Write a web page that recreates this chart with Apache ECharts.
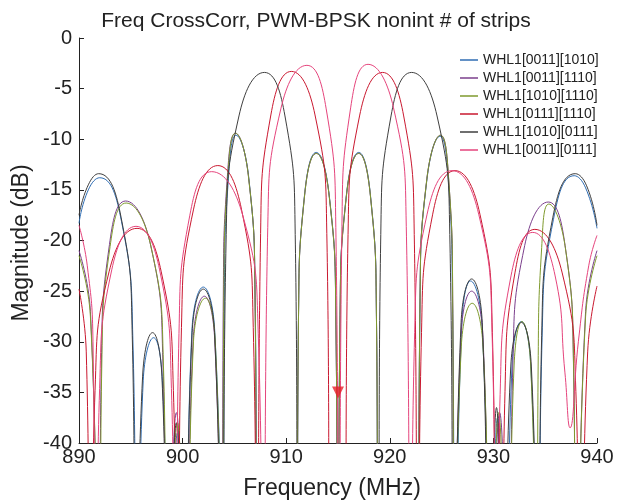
<!DOCTYPE html>
<html><head><meta charset="utf-8">
<script src="https://cdn.jsdelivr.net/npm/echarts@6/dist/echarts.min.js"></script>
<style>html,body{margin:0;padding:0;background:#fff}#c{width:622px;height:502px}</style>
</head><body><div id="c"></div>
<script>
const titleText = 'Freq CrossCorr, PWM-BPSK nonint # of strips';
const xName = 'Frequency (MHz)';
const yName = 'Magnitude (dB)';
const names = ['WHL1[0011][1010]','WHL1[0011][1110]','WHL1[1010][1110]','WHL1[0111][1110]','WHL1[1010][0111]','WHL1[0011][0111]'];
const colors = ['#2f6db3','#7b3f8c','#7f9a2e','#c9182f','#3f3f3f','#e5447c'];

const s1 = [[890,-18.3],[890.9,-15.0],[892.0,-13.8],[894.1,-18.1],[895.2,-29.8],[895.6,-60],
[896.2,-33.8],[897.2,-29.6],[898.05,-33.8],[898.7,-60],
[899.5,-39],[900.2,-60],
[900.9,-28.9],[902.0,-24.6],[903.1,-28.9],[903.9,-60],
[904.03,-25.6],[904.42,-13.9],[905.15,-9.6],[906.4,-13.9],[907.0,-25.6],[907.25,-60],
[911.0,-60],
[911.19,-27.3],[911.76,-15.6],[912.9,-11.3],[914.16,-15.6],[914.79,-27.3],[915.0,-60],
[915.2,-27.3],[915.8,-15.6],[917.0,-11.3],[918.14,-15.6],[918.71,-27.3],[918.9,-60],
[922.7,-60],
[922.92,-25.7],[923.58,-14.0],[924.85,-9.7],[925.65,-14.0],[926.05,-25.7],[926.3,-60],
[926.95,-28.3],[927.8,-24.0],[928.9,-28.3],[929.7,-60],
[930.4,-37.5],[931.2,-60],
[931.8,-32.3],[932.7,-28.0],[933.6,-32.3],[934.3,-60],
[934.7,-29.6],[935.8,-17.9],[937.8,-13.6],[938.9,-14.8],[940,-18.8]];

const s2 = [[890,-21],[891.1,-27],[891.9,-60],
[892.16,-32.1],[892.94,-20.4],[894.5,-16.1],[896.9,-20.4],[898.1,-32.1],[898.5,-60],
[899.4,-37],[900.3,-60],
[901.02,-29.8],[902.1,-25.5],[903.1,-29.8],[903.8,-60],
[903.93,-25.4],[904.32,-13.7],[905.1,-9.4],[906.36,-13.7],[906.99,-25.4],[907.2,-60],
[911.0,-60],
[911.19,-27.4],[911.76,-15.7],[912.9,-11.4],[914.16,-15.7],[914.79,-27.4],[915.0,-60],
[915.2,-27.4],[915.8,-15.7],[917.0,-11.4],[918.14,-15.7],[918.71,-27.4],[918.9,-60],
[922.7,-60],
[922.92,-25.6],[923.58,-13.9],[924.9,-9.6],[925.68,-13.9],[926.07,-25.6],[926.2,-60],
[926.88,-29.3],[927.9,-25],[928.98,-29.3],[929.7,-60],
[930.6,-37],[931.5,-60],
[931.88,-32.2],[933.02,-20.5],[935.3,-16.2],[936.92,-20.5],[937.73,-32.2],[938.0,-60],
[938.9,-27],[940,-21]];

const s3 = [[890,-21.5],[891.1,-27.5],[891.95,-60],
[892.2,-32.3],[893.0,-20.6],[894.55,-16.3],[896.95,-20.6],[898.15,-32.3],[898.55,-60],
[899.5,-38],[900.35,-60],
[901.05,-30.0],[902.2,-25.7],[903.15,-30.0],[903.85,-60],
[903.98,-25.4],[904.36,-13.7],[905.1,-9.4],[906.36,-13.7],[906.99,-25.4],[907.2,-60],
[911.0,-60],
[911.19,-27.4],[911.76,-15.7],[912.9,-11.4],[914.16,-15.7],[914.79,-27.4],[915.0,-60],
[915.2,-27.4],[915.8,-15.7],[917.0,-11.4],[918.14,-15.7],[918.71,-27.4],[918.9,-60],
[922.7,-60],
[922.92,-25.6],[923.58,-13.9],[924.9,-9.6],[925.68,-13.9],[926.07,-25.6],[926.2,-60],
[926.9,-30.5],[927.95,-26.2],[929.0,-30.5],[929.75,-60],
[930.5,-37],[931.4,-60],
[932.0,-32.3],[932.75,-28.0],[933.6,-32.3],[934.2,-60],
[934.32,-32.4],[934.66,-20.7],[935.35,-16.4],[936.94,-20.7],[937.74,-32.4],[938.0,-60],
[938.9,-27.5],[940,-21.5]];

const s4 = [[890,-24.8],[890.7,-31],[891.1,-60],
[891.55,-34.8],[892.9,-23.1],[895.6,-18.8],[897.94,-23.1],[899.11,-34.8],[899.5,-60],
[899.89,-28.6],[901.06,-16.9],[903.4,-12.6],[905.68,-16.9],[906.82,-28.6],[907.2,-60],
[907.53,-19.3],[908.52,-7.6],[910.5,-3.3],[912.78,-7.6],[913.92,-19.3],[914.3,-60],
[915.0,-42],[915.6,-60],
[915.97,-19.4],[917.08,-7.7],[919.3,-3.4],[921.34,-7.7],[922.36,-19.4],[922.7,-60],
[923.06,-29.1],[924.14,-17.4],[926.3,-13.1],[928.7,-17.4],[929.9,-29.1],[930.3,-60],
[930.55,-38],[930.8,-60],
[931.12,-34.9],[932.08,-23.2],[934.0,-18.9],[936.64,-23.2],[937.96,-34.9],[938.4,-60],
[939.1,-31],[940,-24.5]];

const s5 = [[890,-17.5],[890.9,-14.5],[891.9,-13.4],[894.06,-17.7],[895.14,-29.4],[895.5,-60],
[896.14,-33.4],[897.1,-29.1],[898.0,-33.4],[898.6,-60],
[899.4,-38],[900.2,-60],
[900.92,-29.1],[902.0,-24.8],[903.08,-29.1],[903.8,-60],
[904.21,-19.4],[905.44,-7.7],[907.9,-3.4],[909.88,-7.7],[910.87,-19.4],[911.2,-60],
[918.8,-60],
[919.13,-19.4],[920.12,-7.7],[922.1,-3.4],[924.56,-7.7],[925.79,-19.4],[926.2,-60],
[926.88,-28.1],[927.9,-23.8],[928.92,-28.1],[929.6,-60],
[930.3,-36.5],[931.0,-60],
[931.68,-32.4],[932.7,-28.1],[933.66,-32.4],[934.3,-60],
[934.66,-29.4],[935.74,-17.7],[937.9,-13.4],[939.0,-14.6],[940,-18.5]];

const s6 = [[890,-18.5],[890.8,-22.5],[891.35,-30],[891.6,-60],
[891.99,-34.6],[893.16,-22.9],[895.5,-18.6],[897.78,-22.9],[898.92,-34.6],[899.3,-60],
[899.65,-29.2],[900.7,-17.5],[902.8,-13.2],[905.8,-17.5],[907.3,-29.2],[907.8,-60],
[908.22,-18.7],[909.48,-7.0],[912.0,-2.7],[913.86,-7.0],[914.79,-18.7],[915.1,-60],
[915.38,-18.6],[916.22,-6.9],[917.9,-2.6],[920.36,-6.9],[921.59,-18.6],[922.0,-60],
[922.4,-29.1],[923.6,-17.4],[926.0,-13.1],[928.58,-17.4],[929.87,-29.1],[930.3,-60],
[930.65,-35.2],[931.7,-23.5],[933.8,-19.2],[935.96,-23.5],[936.9,-33],[937.4,-38.5],
[938.2,-30],[939.2,-22.5],[940,-19.5]];

const markerPoint = [[915, -35]];
const allSeries = [s1, s2, s3, s4, s5, s6];

const FONT = '"Liberation Sans", Arial, sans-serif';
const chart = echarts.init(document.getElementById('c'), null, {renderer: 'canvas'});

const series = allSeries.map((d, i) => ({
  name: names[i], type: 'line', data: d, symbol: 'none', showSymbol: false,
  smooth: 0.5, clip: true,
  lineStyle: {width: 1, color: colors[i]}, itemStyle: {color: colors[i]}
}));
series.push({
  type: 'scatter', data: markerPoint, symbol: 'triangle', symbolRotate: 180,
  symbolSize: 12, itemStyle: {color: '#e8202a'}, z: 10
});

chart.setOption({
  animation: false,
  backgroundColor: '#fff',
  grid: {left: 79, top: 38, width: 518, height: 405, containLabel: false},
  xAxis: {
    type: 'value', min: 890, max: 940, interval: 10,
    axisLine: {show: true, onZero: false, lineStyle: {color: '#222', width: 1}},
    axisTick: {show: true, inside: true, length: 5, lineStyle: {color: '#222'}},
    axisLabel: {fontSize: 20, color: '#222', fontFamily: FONT, margin: 4},
    splitLine: {show: false}
  },
  yAxis: {
    type: 'value', min: -40, max: 0, interval: 5,
    axisLine: {show: true, onZero: false, lineStyle: {color: '#222', width: 1}},
    axisTick: {show: true, inside: true, length: 5, lineStyle: {color: '#222'}},
    axisLabel: {fontSize: 20, color: '#222', fontFamily: FONT, margin: 7},
    splitLine: {show: false}
  },
  legend: {
    data: names.map((n, i) => ({name: n, icon: 'rect', itemStyle: {color: colors[i]}})),
    orient: 'vertical', left: 455, top: 48,
    itemWidth: 18, itemHeight: 1.5, itemGap: 4,
    textStyle: {fontSize: 14, color: '#222', fontFamily: FONT, lineHeight: 14}
  },
  graphic: [
    {type: 'text', x: 316, y: 21, style: {text: titleText, fontSize: 21, fontFamily: FONT, fill: '#222', align: 'center', verticalAlign: 'middle'}},
    {type: 'text', x: 332, y: 489, style: {text: xName, fontSize: 23, fontFamily: FONT, fill: '#222', align: 'center', verticalAlign: 'middle'}},
    {type: 'text', x: 22, y: 243, rotation: Math.PI / 2, style: {text: yName, fontSize: 23, fontFamily: FONT, fill: '#222', align: 'center', verticalAlign: 'middle'}}
  ],
  series: series
});
</script>
</body></html>
